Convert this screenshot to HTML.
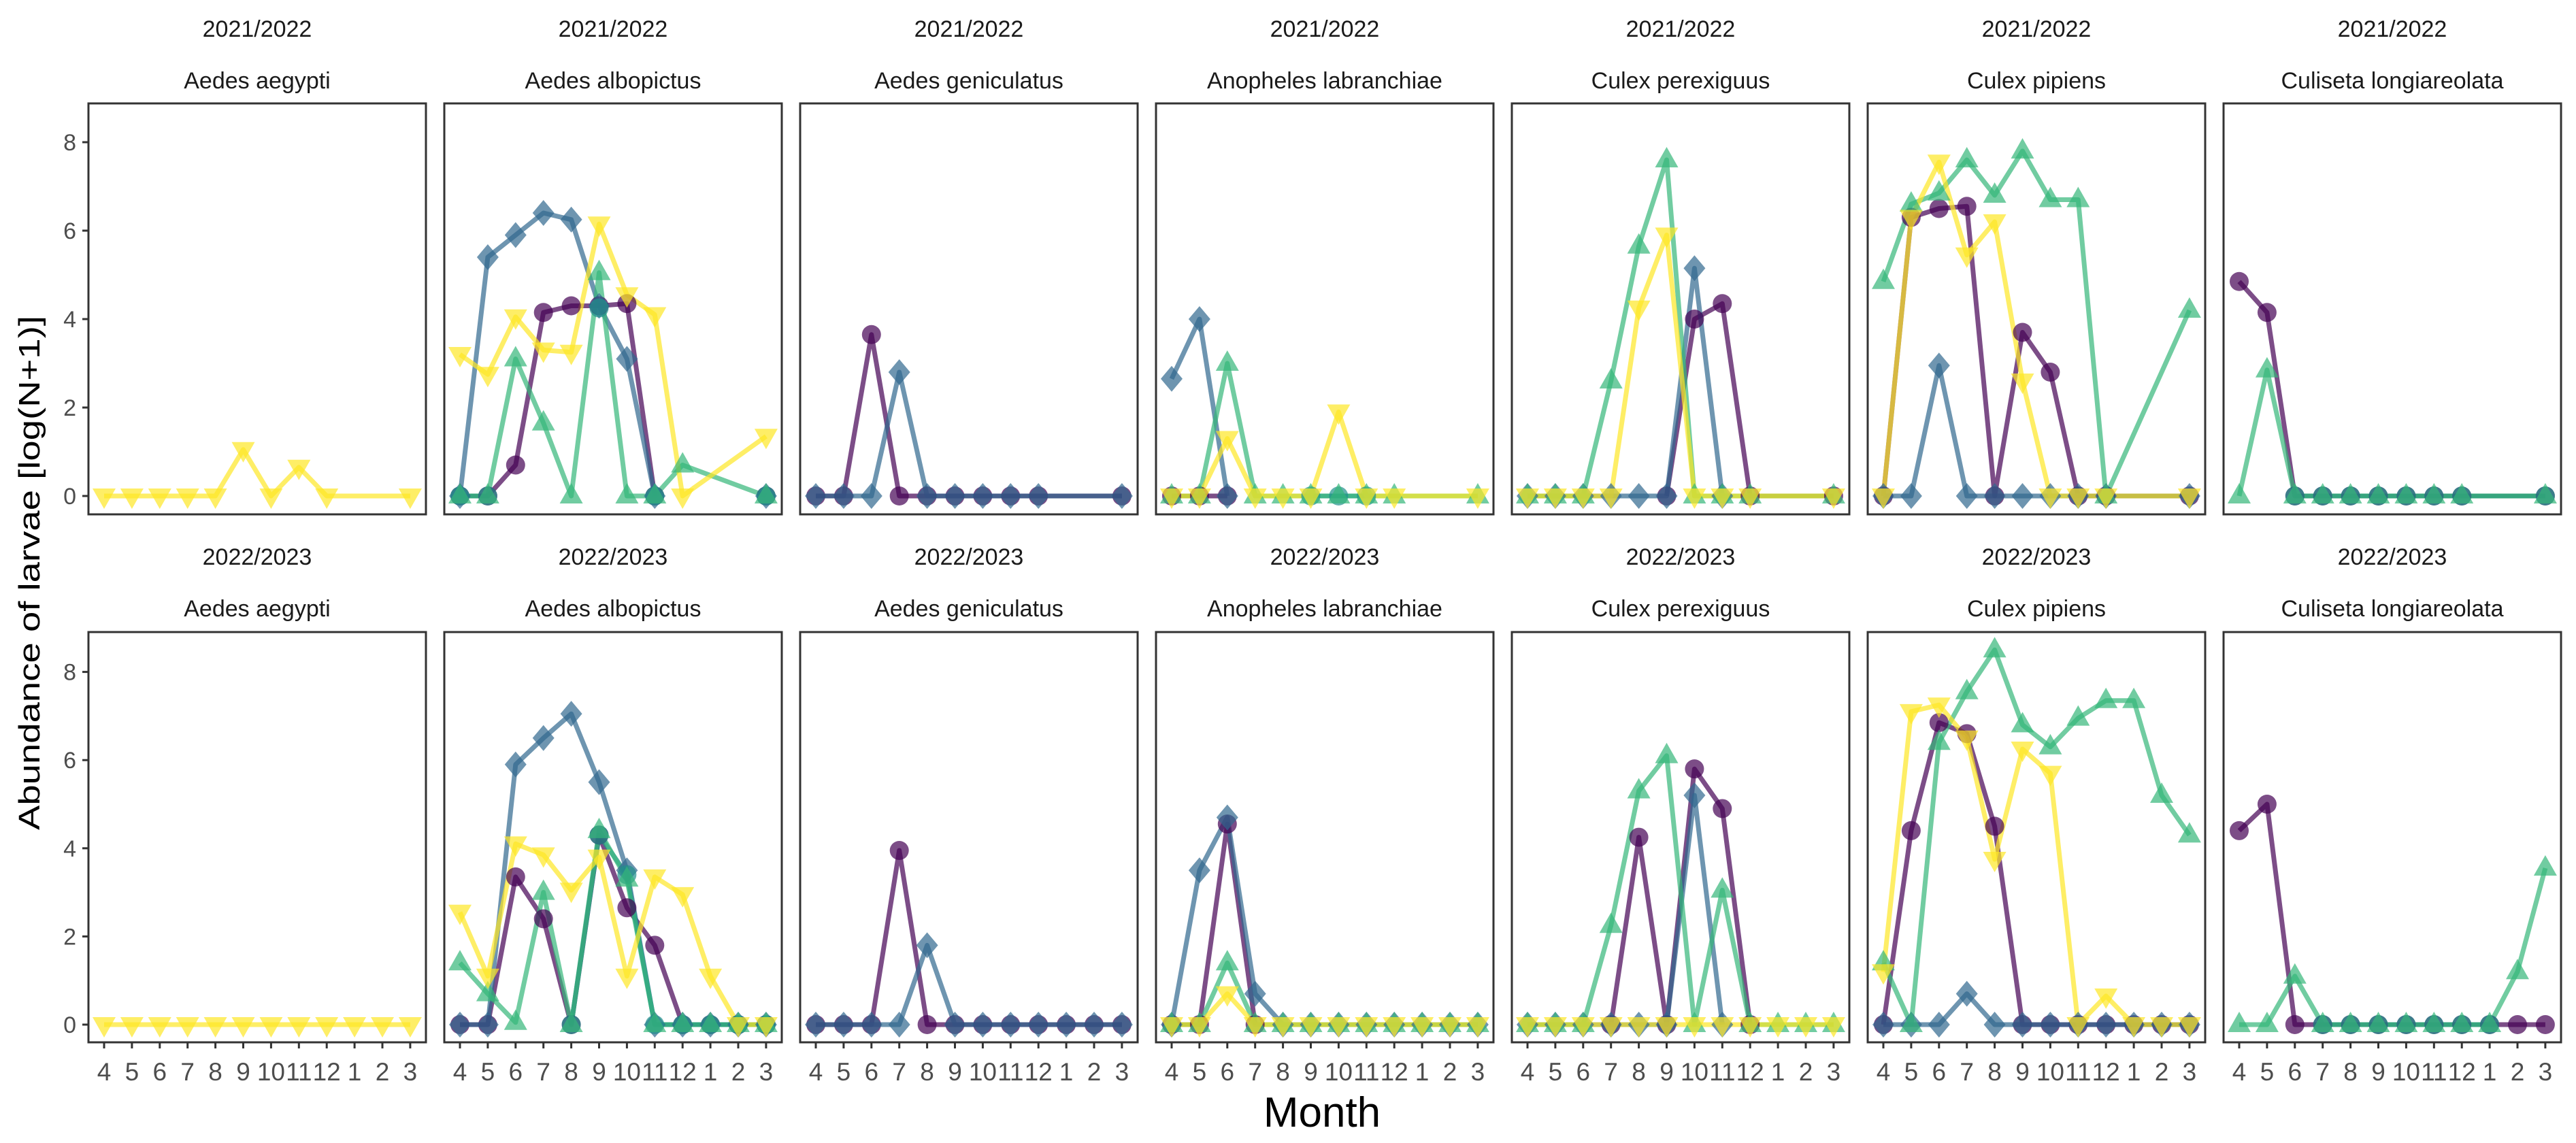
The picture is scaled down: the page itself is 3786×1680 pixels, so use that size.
<!DOCTYPE html>
<html><head><meta charset="utf-8"><style>
html,body{margin:0;padding:0;background:#fff;}
svg{display:block;font-family:"Liberation Sans",Arial,sans-serif;}
</style></head><body>
<svg id="c" width="3786" height="1680" viewBox="0 0 3786 1680" xmlns="http://www.w3.org/2000/svg"></svg>
<script>
(function(){
var N=null;
var C={p:'#440154',b:'#31688E',t:'#21908C',g:'#35B779',y:'#FDE725'};
var SH={p:'c',b:'d',t:'c',g:'u',y:'v'};
var species=['Aedes aegypti','Aedes albopictus','Aedes geniculatus','Anopheles labranchiae','Culex perexiguus','Culex pipiens','Culiseta longiareolata'];
var topD=[
 {y:[0,0,0,0,0,1.05,0,0.65,0,N,N,0]},
 {p:[0,0,0.7,4.15,4.3,4.3,4.35,0,N,N,N,0],b:[0,5.4,5.9,6.4,6.25,4.3,3.1,0,N,N,N,0],t:[0,0,N,N,N,4.25,N,0,N,N,N,0],g:[0,0,3.1,1.65,0,5.05,0,0,0.7,N,N,0],y:[3.2,2.75,4.05,3.3,3.25,6.15,4.55,4.1,0,N,N,1.35]},
 {p:[0,0,3.65,0,0,0,0,0,0,N,N,0],b:[0,0,0,2.8,0,0,0,0,0,N,N,0]},
 {p:[0,0,0,N,N,N,N,N,N,N,N,N],b:[2.65,4.0,0,N,N,N,N,N,N,N,N,N],t:[N,N,N,N,N,0,0,0,N,N,N,N],g:[0,0,3.0,0,0,0,0,0,0,N,N,0],y:[0,0,1.3,0,0,0,1.9,0,0,N,N,0]},
 {p:[N,N,N,N,N,0,4.0,4.35,0,N,N,0],b:[0,0,0,0,0,0,5.15,0,N,N,N,N],g:[0,0,0,2.6,5.65,7.6,0,0,0,N,N,0],y:[0,0,0,0,4.25,5.9,0,0,0,N,N,0]},
 {p:[0,6.3,6.5,6.55,0,3.7,2.8,0,0,N,N,0],b:[0,0,2.95,0,0,0,0,0,0,N,N,0],g:[4.85,6.6,6.85,7.6,6.8,7.8,6.7,6.7,0,N,N,4.2],y:[0,6.3,7.55,5.45,6.2,2.6,0,0,0,N,N,0]},
 {p:[4.85,4.15,0,0,0,0,0,0,0,N,N,0],t:[N,N,0,0,0,0,0,0,0,N,N,0],g:[0,2.85,0,0,0,0,0,0,0,N,N,0]}
];
var z12=[0,0,0,0,0,0,0,0,0,0,0,0];
var botD=[
 {y:z12},
 {p:[0,0,3.35,2.4,0,4.3,2.65,1.8,0,0,0,0],b:[0,0,5.9,6.5,7.05,5.5,3.5,0,0,0,0,0],t:[N,N,N,N,0,4.3,3.4,0,0,0,0,0],g:[1.4,0.7,0.05,3.0,0,4.4,3.3,0,0,0,0,0],y:[2.55,1.1,4.1,3.85,3.05,3.8,1.1,3.35,2.95,1.1,0,0]},
 {p:[0,0,0,3.95,0,0,0,0,0,0,0,0],b:[0,0,0,0,1.8,0,0,0,0,0,0,0]},
 {p:[0,0,4.55,0,N,N,N,N,N,N,N,N],b:[0,3.5,4.7,0.7,0,0,0,0,0,0,0,0],g:[0,0,1.4,0,0,0,0,0,0,0,0,0],y:[0,0,0.7,0,0,0,0,0,0,0,0,0]},
 {p:[N,N,N,0,4.25,0,5.8,4.9,0,N,N,N],b:[0,0,0,0,0,0,5.2,0,N,N,N,N],g:[0,0,0,2.25,5.3,6.1,0,3.05,0,0,0,0],y:z12},
 {p:[0,4.4,6.85,6.6,4.5,0,0,0,0,0,0,0],b:[0,0,0,0.7,0,0,0,0,0,0,0,0],g:[1.4,0,6.4,7.55,8.5,6.8,6.3,6.95,7.35,7.35,5.2,4.3],y:[1.2,7.1,7.25,6.5,3.75,6.25,5.7,0,0.65,0,0,0]},
 {p:[4.4,5.0,0,0,0,0,0,0,0,0,0,0],t:[N,N,N,0,0,0,0,0,0,0,N,N],g:[0,0,1.1,0,0,0,0,0,0,0,1.2,3.55]}
];
var months=['4','5','6','7','8','9','10','11','12','1','2','3'];
var s='';
function T(x,y,txt,sz,anchor,fill){s+='<text x="'+x+'" y="'+y+'" font-size="'+sz+'" text-anchor="'+(anchor||'middle')+'" fill="'+(fill||'#1a1a1a')+'">'+txt+'</text>';}
var rows=[{tp:152,bt:756,y0:729,u:65,yr:'2021/2022',yy:54,sy:130,data:topD,ticks:false},
          {tp:929,bt:1532,y0:1506,u:64.8,yr:'2022/2023',yy:830,sy:906,data:botD,ticks:true}];
var order=['p','b','t','g','y'];
rows.forEach(function(r){
 for(var v=0;v<=8;v+=2){var yy=r.y0-r.u*v;T(112,yy+12,v,34,'end','#4d4d4d');s+='<line x1="121" x2="130" y1="'+yy+'" y2="'+yy+'" stroke="#333" stroke-width="3"/>';}
 for(var i=0;i<7;i++){
  var L=130+523*i, W=496;
  T(L+W/2,r.yy,r.yr,34);T(L+W/2,r.sy,species[i],34);
  var X=(function(L){return function(k){return L+23+40.9*k;};})(L);
  var Y=function(v){return r.y0-r.u*v;};
  var d=r.data[i];
  order.forEach(function(k){ if(!d[k])return;
   var segs=[],cur=[];
   d[k].forEach(function(v,j){
     if(v===null){ if(j!==9&&j!==10){ if(cur.length) segs.push(cur); cur=[]; } return; }
     cur.push(X(j).toFixed(1)+','+Y(v).toFixed(1));
   });
   if(cur.length) segs.push(cur);
   segs.forEach(function(pts){ if(pts.length<2) return;
     s+='<polyline points="'+pts.join(' ')+'" fill="none" stroke="'+C[k]+'" stroke-width="7" stroke-opacity="0.7" stroke-linejoin="round"/>';});
  });
  order.forEach(function(k){ if(!d[k])return; d[k].forEach(function(v,j){ if(v===null)return; var x=X(j),y=Y(v),c=C[k];
   if(SH[k]=='c') s+='<circle cx="'+x+'" cy="'+y+'" r="14" fill="'+c+'" fill-opacity="0.7"/>';
   else if(SH[k]=='d') s+='<polygon points="'+x+','+(y-19)+' '+(x+16)+','+y+' '+x+','+(y+19)+' '+(x-16)+','+y+'" fill="'+c+'" fill-opacity="0.7"/>';
   else if(SH[k]=='u') s+='<polygon points="'+x+','+(y-19)+' '+(x+17)+','+(y+11)+' '+(x-17)+','+(y+11)+'" fill="'+c+'" fill-opacity="0.7"/>';
   else s+='<polygon points="'+x+','+(y+19)+' '+(x+17)+','+(y-11)+' '+(x-17)+','+(y-11)+'" fill="'+c+'" fill-opacity="0.7"/>';});});
  s+='<rect x="'+L+'" y="'+r.tp+'" width="'+W+'" height="'+(r.bt-r.tp)+'" fill="none" stroke="#333" stroke-width="3"/>';
  if(r.ticks){months.forEach(function(m,j){var x=X(j);s+='<line x1="'+x+'" x2="'+x+'" y1="'+r.bt+'" y2="'+(r.bt+9)+'" stroke="#333" stroke-width="3"/>';T(x,1588,m,37,'middle','#4d4d4d');});}
 }
});
s+='<text x="1943" y="1656" font-size="62" text-anchor="middle" fill="#000">Month</text>';
s+='<text transform="translate(58,842) rotate(-90)" font-size="44" text-anchor="middle" fill="#000" textLength="756" lengthAdjust="spacingAndGlyphs">Abundance of larvae [log(N+1)]</text>';
document.getElementById('c').innerHTML=s;
})();
</script>
</body></html>
